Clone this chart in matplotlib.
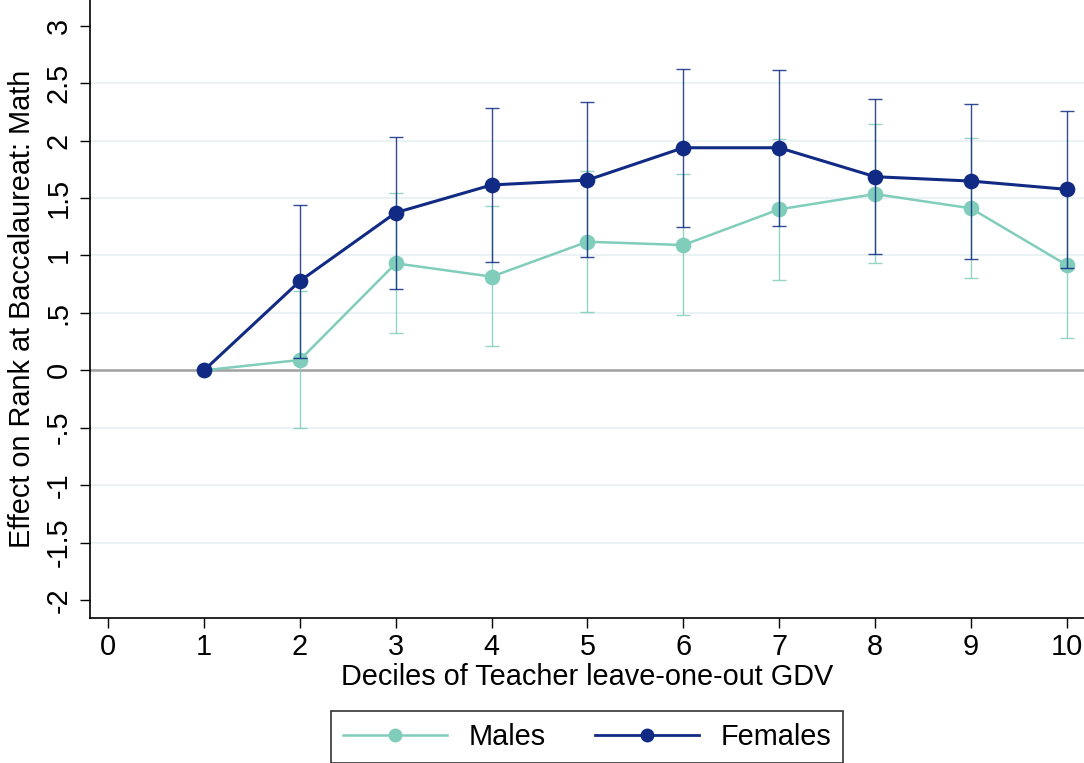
import matplotlib
matplotlib.use("Agg")
import matplotlib.pyplot as plt
from matplotlib.lines import Line2D

plt.rcParams['font.family'] = ['Liberation Sans', 'DejaVu Sans']

deciles = [1, 2, 3, 4, 5, 6, 7, 8, 9, 10]
males = [0.0, 0.09, 0.931, 0.815, 1.119, 1.09, 1.401, 1.534, 1.41, 0.916]
males_lo = [0.0, -0.505, 0.322, 0.209, 0.505, 0.484, 0.783, 0.931, 0.80, 0.284]
males_hi = [0.0, 0.693, 1.546, 1.427, 1.735, 1.708, 2.016, 2.146, 2.024, 1.548]
females = [0.0, 0.777, 1.372, 1.613, 1.656, 1.937, 1.937, 1.685, 1.647, 1.575]
females_lo = [0.0, 0.104, 0.710, 0.94, 0.983, 1.25, 1.259, 1.01, 0.969, 0.888]
females_hi = [0.0, 1.441, 2.033, 2.28, 2.332, 2.62, 2.611, 2.361, 2.322, 2.26]

xticks = [0, 1, 2, 3, 4, 5, 6, 7, 8, 9, 10]
yticks = [-2, -1.5, -1, -0.5, 0, 0.5, 1, 1.5, 2, 2.5, 3]
ytick_labels = ['-2', '-1.5', '-1', '-.5', '0', '.5', '1', '1.5', '2', '2.5', '3']
grid_vals = [-1.5, -1, -0.5, 0.5, 1, 1.5, 2, 2.5]

c_m = '#80cdbb'
c_f = '#112b84'
FS = 20.8

W, H = 1084, 763
fig = plt.figure(figsize=(W / 100, H / 100), dpi=100)
ax = fig.add_axes([90 / W, 1 - 618 / H, 1 - 90 / W, 618 / H])
ax.set_xlim(-0.19, 10.18)
ax.set_ylim(-2.156, 3.223)

for g in grid_vals:
    ax.axhline(g, color='#eaf2f3', lw=1.5, zorder=0)
ax.axhline(0, color='#a0a0a0', lw=1.8, zorder=1)

def draw(y, lo, hi, color, lw, z):
    yerr = [[yy - l for yy, l in zip(y, lo)], [h - yy for yy, h in zip(y, hi)]]
    ax.errorbar(deciles[1:], y[1:], yerr=[yerr[0][1:], yerr[1][1:]], fmt='none',
                ecolor=color, elinewidth=1.0, capsize=4.7, capthick=1.0,
                alpha=0.85, zorder=z)
    ax.plot(deciles, y, color=color, lw=lw, marker='o', ms=11.3,
            markeredgewidth=0, zorder=z + 1)

draw(males, males_lo, males_hi, c_m, 1.8, 2)
draw(females, females_lo, females_hi, c_f, 2.2, 4)

ax.set_xticks(xticks)
ax.set_yticks(yticks)
ax.set_yticklabels(ytick_labels, rotation=90, va='center')
ax.tick_params(axis='both', direction='out', length=7.5, width=1.0,
               labelsize=FS, colors='black')
ax.tick_params(axis='y', pad=5)
ax.tick_params(axis='x', pad=3)
for s in ['top', 'right']:
    ax.spines[s].set_visible(False)
for s in ['left', 'bottom']:
    ax.spines[s].set_linewidth(1.2)

ax.set_xlabel('Deciles of Teacher leave-one-out GDV', fontsize=FS, labelpad=2)
ax.set_ylabel('Effect on Rank at Baccalaureat: Math', fontsize=FS, labelpad=6)

handles = [Line2D([], [], color=c_m, lw=1.8, marker='o', ms=10, markeredgewidth=0),
           Line2D([], [], color=c_f, lw=2.0, marker='o', ms=10, markeredgewidth=0)]
leg = fig.legend(handles, ['Males', 'Females'], loc='upper center',
                 bbox_to_anchor=(587 / W, 1 - 711 / H), ncol=2, fontsize=FS,
                 frameon=True, fancybox=False, edgecolor='black', handlelength=3.6,
                 columnspacing=1.7, borderpad=0.42, handletextpad=0.75,
                 borderaxespad=0)
leg.get_frame().set_linewidth(1.2)

fig.savefig('out.png', dpi=100)
